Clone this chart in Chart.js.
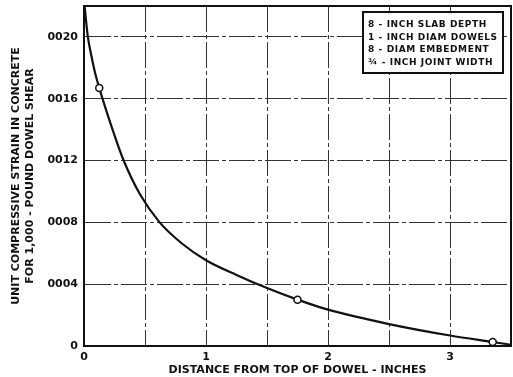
<!DOCTYPE html>
<html>
<head>
<meta charset="utf-8">
<script src="https://cdn.jsdelivr.net/npm/chart.js@4/dist/chart.umd.min.js"></script>
<style>
  html, body { margin: 0; padding: 0; background: #fff; }
  #wrap { width: 513px; height: 377px; }
</style>
</head>
<body>
<div id="wrap"><canvas id="myChart" width="513" height="377"></canvas></div>
<script>
// strain curve
const distX  = [0.005, 0.03, 0.06, 0.09, 0.125, 0.16, 0.23, 0.32, 0.46, 0.62, 0.8, 1.0, 1.25, 1.5, 1.75, 2.0, 2.5, 3.0, 3.35, 3.5];
const strain = [0.0022, 0.00201, 0.00188, 0.00177, 0.00167, 0.00158, 0.00141, 0.00121, 0.00098, 0.0008, 0.000665, 0.000555, 0.00046, 0.000375, 0.0003, 0.000235, 0.000142, 0.000068, 0.000026, 0.000008];

// measured points (open circles)
const testX      = [0.125, 1.75, 3.35];
const testStrain = [0.00167, 0.0003, 0.000026];

const xTickLabels = ["0", "1", "2", "3"];
const yTickLabels = ["0", "0004", "0008", "0012", "0016", "0020"];

const xTitle = "DISTANCE FROM TOP OF DOWEL - INCHES";
const yTitle = ["UNIT COMPRESSIVE STRAIN IN CONCRETE", "FOR 1,000 - POUND DOWEL SHEAR"];
const noteLines = ["8 - INCH SLAB DEPTH", "1 - INCH DIAM DOWELS", "8 - DIAM EMBEDMENT", "\u00BE - INCH JOINT WIDTH"];

const FONT = "'DejaVu Sans', sans-serif";
const INK = "#111";

const framePlugin = {
  id: "frame",
  afterDraw(chart) {
    const ctx = chart.ctx;
    const a = chart.chartArea;
    ctx.save();
    // plot frame
    ctx.strokeStyle = INK;
    ctx.lineWidth = 2;
    ctx.strokeRect(a.left, a.top, a.right - a.left, a.bottom - a.top);
    // note box
    const bx = 363, by = 12, bw = 140, bh = 61;
    ctx.fillStyle = "#fff";
    ctx.fillRect(bx, by, bw, bh);
    ctx.lineWidth = 2;
    ctx.strokeRect(bx, by, bw, bh);
    ctx.fillStyle = INK;
    ctx.font = "bold 9px " + FONT;
    ctx.letterSpacing = "0.6px";
    ctx.textBaseline = "middle";
    ctx.textAlign = "left";
    noteLines.forEach((t, i) => {
      ctx.fillText(t, bx + 5, by + 13 + i * 12.5);
    });
    ctx.restore();
  }
};

const config = {
  type: "scatter",
  data: {
    datasets: [
      {
        label: "Strain",
        data: distX.map((x, i) => ({ x: x, y: strain[i] })),
        showLine: true,
        borderColor: INK,
        borderWidth: 2.2,
        pointRadius: 0,
        cubicInterpolationMode: "monotone",
        order: 2
      },
      {
        label: "Tests",
        data: testX.map((x, i) => ({ x: x, y: testStrain[i] })),
        showLine: false,
        pointRadius: 3.5,
        pointBackgroundColor: "#fff",
        pointBorderColor: INK,
        pointBorderWidth: 1.5,
        order: 1
      }
    ]
  },
  options: {
    responsive: false,
    animation: false,
    devicePixelRatio: 1,
    layout: { padding: { top: 0, right: 2, bottom: 0, left: 0 }, autoPadding: false },
    plugins: {
      legend: { display: false },
      tooltip: { enabled: false }
    },
    scales: {
      x: {
        type: "linear",
        min: 0,
        max: 3.5,
        afterFit: s => { s.height = 31; s.paddingRight = 0; },
        ticks: {
          stepSize: 0.5,
          padding: 5,
          maxRotation: 0,
          autoSkip: false,
          color: INK,
          font: { family: FONT, size: 11, weight: "bold" },
          callback: v => Number.isInteger(v) && xTickLabels[v] !== undefined ? xTickLabels[v] : ""
        },
        grid: { color: "#333", lineWidth: 1, drawTicks: false },
        border: { display: true, color: INK, width: 2, dash: [26, 3, 4, 3] },
        title: {
          display: true,
          text: xTitle,
          color: INK,
          font: { family: FONT, size: 11, weight: "bold" },
          padding: { top: 0, bottom: 0 }
        }
      },
      y: {
        min: 0,
        max: 0.0022,
        afterFit: s => { s.width = 84; s.paddingTop = 6; },
        ticks: {
          stepSize: 0.0004,
          padding: 6,
          autoSkip: false,
          color: INK,
          font: { family: FONT, size: 11, weight: "bold" },
          callback: v => {
            const k = v / 0.0004;
            const n = Math.round(k);
            if (Math.abs(k - n) > 1e-6) return "";
            return yTickLabels[n] !== undefined ? yTickLabels[n] : "";
          }
        },
        grid: { color: "#333", lineWidth: 1, drawTicks: false },
        border: { display: true, color: INK, width: 2, dash: [26, 3, 4, 3] },
        title: {
          display: true,
          text: yTitle,
          color: INK,
          font: { family: FONT, size: 11, weight: "bold" },
          padding: { top: 10, bottom: 0 }
        }
      }
    }
  },
  plugins: [framePlugin]
};

var myChart = new Chart(document.getElementById("myChart"), config);
</script>
</body>
</html>
